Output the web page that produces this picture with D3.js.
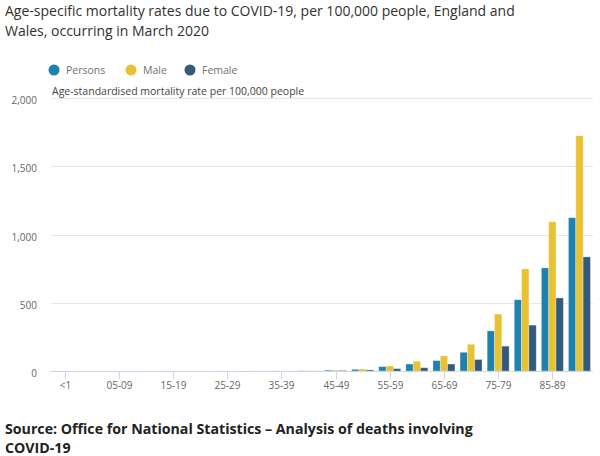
<!DOCTYPE html>
<html>
<head>
<meta charset="utf-8">
<script src="https://cdn.jsdelivr.net/npm/d3@7"></script>
<style>
  body { margin: 0; background: #fff; }
  svg { font-family: "Open Sans", sans-serif; display: block; }
</style>
</head>
<body>
<svg id="chart" width="600" height="456"></svg>
<script>
// age bands (every other one gets a tick label)
const ageBands = ["<1", "01-04", "05-09", "10-14", "15-19", "20-24", "25-29", "30-34", "35-39", "40-44",
                  "45-49", "50-54", "55-59", "60-64", "65-69", "70-74", "75-79", "80-84", "85-89", "90+"];
const seriesNames = ["Persons", "Male", "Female"];
const personsRates = [0.3, 0, 0, 0, 0, 0.1, 0.2, 0.4, 0.6, 1.5, 6, 12, 32, 51, 76, 137, 294, 522, 755, 1123];
const maleRates    = [0.4, 0, 0, 0, 0, 0.1, 0.3, 0.6, 0.9, 2.2, 7, 14, 37, 71, 110, 196, 417, 748, 1093, 1723];
const femaleRates  = [0.2, 0, 0, 0, 0, 0.1, 0.1, 0.2, 0.3, 0.8, 4, 8, 17, 24, 51, 84, 182, 336, 535, 836];
const yTicks = [0, 500, 1000, 1500, 2000];
const colours = ["#1f81ad", "#e8c233", "#335a7a"];

const svg = d3.select("#chart");
const m = { left: 51, right: 7, top: 98, bottom: 85 };
const width = +svg.attr("width") - m.left - m.right;
const height = +svg.attr("height") - m.top - m.bottom;

// title
const title = svg.append("text")
    .attr("x", 5).attr("y", 16)
    .style("font-size", "14px").style("fill", "#323132");
title.append("tspan").attr("x", 5).attr("dy", 0)
    .text("Age-specific mortality rates due to COVID-19, per 100,000 people, England and");
title.append("tspan").attr("x", 5).attr("dy", 20)
    .text("Wales, occurring in March 2020");

// legend
const legendX = [54, 131, 190];
const legend = svg.append("g").attr("class", "legend");
seriesNames.forEach((name, i) => {
    const g = legend.append("g").attr("transform", `translate(${legendX[i]},70)`);
    g.append("circle").attr("r", 5.5).attr("fill", colours[i]);
    g.append("text").attr("x", 12).attr("y", 4)
        .style("font-size", "10.5px").style("fill", "#707070")
        .text(name);
});

const plot = svg.append("g").attr("transform", `translate(${m.left},${m.top})`);

const x = d3.scaleBand().domain(ageBands).range([0, width]).paddingInner(0.19).paddingOuter(0.095);
const xInner = d3.scaleBand().domain(seriesNames).range([0, x.bandwidth()]).padding(0);
const y = d3.scaleLinear().domain([0, 2000]).range([height, 0]);

// gridlines
plot.append("g").selectAll("line")
    .data(yTicks.filter(d => d > 0))
    .join("line")
    .attr("x1", 0).attr("x2", width)
    .attr("y1", d => Math.round(y(d)) + 0.5).attr("y2", d => Math.round(y(d)) + 0.5)
    .attr("stroke", "#e6e6e6");

// y labels
plot.append("g").selectAll("text")
    .data(yTicks)
    .join("text")
    .attr("x", -14).attr("y", d => y(d) + 6)
    .attr("text-anchor", "end")
    .style("font-size", "10px").style("fill", "#666")
    .text(d => d3.format(",")(d));

// y axis title
svg.append("text")
    .attr("x", 52).attr("y", 95)
    .style("font-size", "10.5px").style("fill", "#444")
    .text("Age-standardised mortality rate per 100,000 people");

// bars
const seriesData = [personsRates, maleRates, femaleRates];
seriesNames.forEach((name, i) => {
    plot.append("g").attr("class", "series-" + name)
        .selectAll("rect")
        .data(seriesData[i].map((v, j) => ({ age: ageBands[j], v })))
        .join("rect")
        .attr("x", d => x(d.age) + xInner(name))
        .attr("width", xInner.bandwidth())
        .attr("y", d => y(d.v))
        .attr("height", d => height - y(d.v))
        .attr("fill", colours[i])
        .attr("stroke", "#fff").attr("stroke-opacity", 0.35).attr("stroke-width", 0.8);
});

// x axis
const xAxis = plot.append("g").attr("transform", `translate(0,${height})`);
xAxis.append("line").attr("x1", 0).attr("x2", width)
    .attr("y1", 0.5).attr("y2", 0.5).attr("stroke", "#ccd6eb");
const labelled = ageBands.filter((d, i) => i % 2 === 0);
xAxis.selectAll(".tick")
    .data(labelled)
    .join("g")
    .attr("class", "tick")
    .attr("transform", d => `translate(${Math.round(x(d) + x.bandwidth() / 2) + 0.5},0)`)
    .call(g => g.append("line").attr("y1", 0).attr("y2", 8).attr("stroke", "#ccd6eb"))
    .call(g => g.append("text").attr("y", 18).attr("text-anchor", "middle")
        .style("font-size", "10px").style("fill", "#666").text(d => d));

// source
const src = svg.append("text").attr("x", 5).attr("y", 434)
    .style("font-size", "14.2px").style("font-weight", "bold").style("fill", "#222");
src.append("tspan").attr("x", 5).text("Source: Office for National Statistics – Analysis of deaths involving");
src.append("tspan").attr("x", 5).attr("dy", 19).text("COVID-19");
</script>
</body>
</html>
